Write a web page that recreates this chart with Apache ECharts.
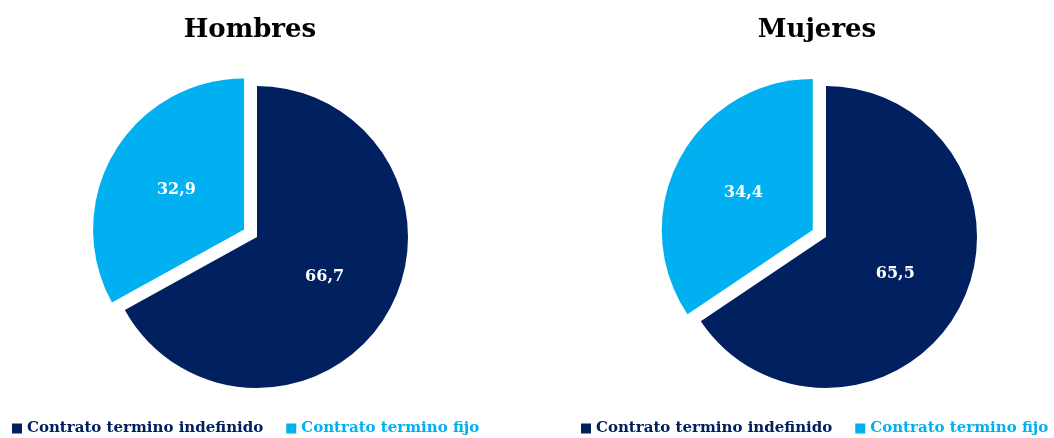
<!DOCTYPE html>
<html>
<head>
<meta charset="utf-8">
<script src="https://cdn.jsdelivr.net/npm/echarts@6/dist/echarts.min.js"></script>
<style>
  html, body { margin: 0; padding: 0; background: #fff; }
  #chart { width: 1054px; height: 438px; }
</style>
</head>
<body>
<div id="chart"></div>
<script>
const categories = ['Contrato termino indefinido', 'Contrato termino fijo'];
const hombres = [66.7, 32.9];
const mujeres = [65.5, 34.4];
const colors = ['#002060', '#00B0F0'];

const font = "'DejaVu Serif', serif";

const makeData = (values) => values.map((v, i) => ({
  name: categories[i],
  value: v,
  selected: i === 1,
  itemStyle: { color: colors[i] }
}));

const makePie = (values, cx) => ({
  type: 'pie',
  radius: 151,
  center: [cx, 237],
  startAngle: 90,
  clockwise: true,
  selectedMode: 'multiple',
  selectedOffset: 15,
  avoidLabelOverlap: false,
  label: {
    show: true,
    position: 'inside',
    color: '#fff',
    fontFamily: font,
    fontWeight: 'bold',
    fontSize: 16,
    formatter: (p) => p.value.toFixed(1).replace('.', ',')
  },
  labelLine: { show: false },
  emphasis: { scale: false },
  data: makeData(values)
});

// legend sits under each pie, text coloured like its swatch
const makeLegend = (left) => ({
  left: left,
  top: 421,
  width: 470,
  padding: 0,
  itemWidth: 10,
  itemHeight: 10,
  itemGap: 23,
  icon: 'rect',
  selectedMode: false,
  textStyle: { fontFamily: font, fontWeight: 'bold', fontSize: 15 },
  data: categories.map((c, i) => ({ name: c, textStyle: { color: colors[i] } }))
});

const chart = echarts.init(document.getElementById('chart'));
chart.setOption({
  animation: false,
  title: [
    { text: 'Hombres', left: 245, top: 12, textAlign: 'center',
      textStyle: { fontFamily: font, fontWeight: 'bold', fontSize: 26, color: '#000' } },
    { text: 'Mujeres', left: 812, top: 12, textAlign: 'center',
      textStyle: { fontFamily: font, fontWeight: 'bold', fontSize: 26, color: '#000' } }
  ],
  legend: [makeLegend(12), makeLegend(581)],
  series: [makePie(hombres, 257), makePie(mujeres, 826)]
});
</script>
</body>
</html>
